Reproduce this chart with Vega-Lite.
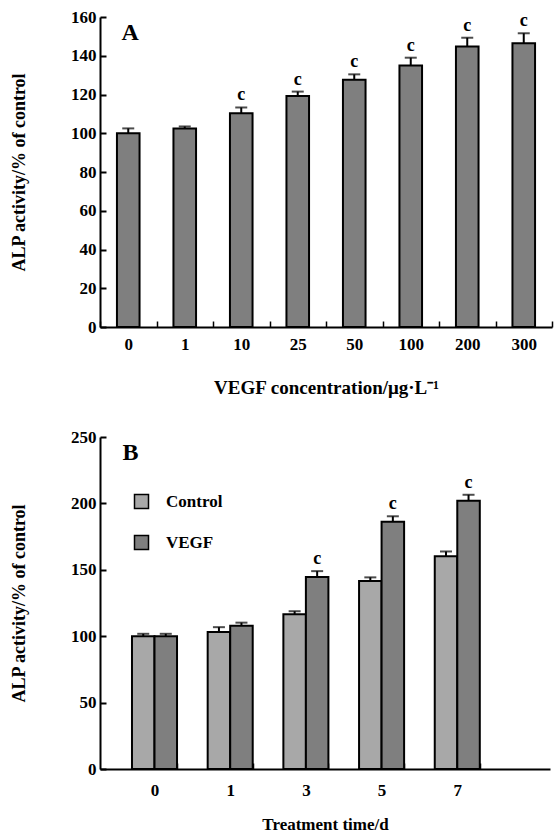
{
  "$schema": "https://vega.github.io/schema/vega-lite/v6.json",
  "padding": {"left": 10, "top": 8, "right": 2, "bottom": 0},
  "spacing": 31,
  "resolve": {"scale": {"fill": "independent"}, "legend": {"fill": "independent"}},
  "config": {
    "view": {"stroke": null},
    "font": "Liberation Serif",
    "axis": {
      "labelFont": "Liberation Serif",
      "labelFontWeight": "bold",
      "labelFontSize": 17,
      "labelColor": "#000",
      "labelOverlap": false,
      "titleFont": "Liberation Serif",
      "titleFontWeight": "bold",
      "titleFontSize": 18,
      "titleColor": "#000",
      "domainColor": "#000",
      "domainWidth": 2,
      "tickColor": "#000",
      "tickWidth": 2,
      "grid": false
    },
    "legend": {
      "labelFont": "Liberation Serif",
      "labelFontWeight": "bold",
      "labelFontSize": 17,
      "labelColor": "#000"
    }
  },
  "datasets": {
    "a": [
      {"conc": "0", "value": 100, "upper": 102.5, "sig": ""},
      {"conc": "1", "value": 102.4, "upper": 103.5, "sig": ""},
      {"conc": "10", "value": 110.3, "upper": 113.3, "sig": "c"},
      {"conc": "25", "value": 119.2, "upper": 121.5, "sig": "c"},
      {"conc": "50", "value": 127.6, "upper": 130.4, "sig": "c"},
      {"conc": "100", "value": 135, "upper": 139, "sig": "c"},
      {"conc": "200", "value": 144.8, "upper": 149.3, "sig": "c"},
      {"conc": "300", "value": 146.4, "upper": 151.6, "sig": "c"}
    ],
    "b": [
      {"day": "0", "group": "Control", "value": 100, "upper": 101.8, "sig": ""},
      {"day": "0", "group": "VEGF", "value": 100, "upper": 101.8, "sig": ""},
      {"day": "1", "group": "Control", "value": 103.2, "upper": 106.8, "sig": ""},
      {"day": "1", "group": "VEGF", "value": 107.8, "upper": 110.2, "sig": ""},
      {"day": "3", "group": "Control", "value": 116.5, "upper": 118.8, "sig": ""},
      {"day": "3", "group": "VEGF", "value": 144.5, "upper": 149, "sig": "c"},
      {"day": "5", "group": "Control", "value": 141.5, "upper": 144.3, "sig": ""},
      {"day": "5", "group": "VEGF", "value": 186.2, "upper": 190.3, "sig": "c"},
      {"day": "7", "group": "Control", "value": 160.2, "upper": 163.8, "sig": ""},
      {"day": "7", "group": "VEGF", "value": 202, "upper": 206.5, "sig": "c"}
    ],
    "labA": [{"conc": "0", "y": 152, "label": "A"}],
    "labB": [{"day": "0", "y": 238, "label": "B"}]
  },
  "vconcat": [
    {
      "width": 452,
      "height": 310,
      "encoding": {
        "x": {
          "field": "conc", "type": "nominal", "sort": null,
          "scale": {"paddingInner": 0, "paddingOuter": 0},
          "axis": {"title": "VEGF concentration/μg·L⁻¹", "titleFontSize": 19, "labelAngle": 0, "tickBand": "extent", "tickSize": -6, "tickWidth": 1.5, "labelPadding": 15, "titlePadding": 26}
        },
        "y": {"field": "value", "type": "quantitative",
          "scale": {"domain": [0, 160], "nice": false},
          "axis": {"title": "ALP activity/% of control", "values": [0, 20, 40, 60, 80, 100, 120, 140, 160], "tickCount": 9, "labelOverlap": false, "tickSize": -6, "labelPadding": 10, "titlePadding": 42}}
      },
      "layer": [
        {
          "data": {"name": "a"},
          "mark": {"type": "bar", "width": {"band": 0.4}, "fill": "#7f7f7f", "stroke": "#000", "strokeWidth": 2}
        },
        {
          "data": {"name": "a"},
          "mark": {"type": "rule", "color": "#000", "strokeWidth": 2},
          "encoding": {"y2": {"field": "upper"}}
        },
        {
          "data": {"name": "a"},
          "mark": {"type": "tick", "color": "#000", "size": 12, "thickness": 2, "orient": "horizontal"},
          "encoding": {"y": {"field": "upper", "type": "quantitative", "axis": {"title": "ALP activity/% of control", "values": [0, 20, 40, 60, 80, 100, 120, 140, 160], "labelOverlap": false}}}
        },
        {
          "data": {"name": "a"},
          "mark": {"type": "text", "font": "Liberation Serif", "fontWeight": "bold", "fontSize": 18, "dy": -12, "color": "#000"},
          "encoding": {"y": {"field": "upper", "type": "quantitative", "axis": {"title": "ALP activity/% of control", "values": [0, 20, 40, 60, 80, 100, 120, 140, 160], "labelOverlap": false}}, "text": {"field": "sig"}}
        },
        {
          "data": {"name": "labA"},
          "mark": {"type": "text", "font": "Liberation Serif", "fontWeight": "bold", "fontSize": 24, "dx": 2, "color": "#000"},
          "encoding": {"y": {"field": "y", "type": "quantitative", "axis": {"title": "ALP activity/% of control", "values": [0, 20, 40, 60, 80, 100, 120, 140, 160], "labelOverlap": false}}, "text": {"field": "label"}}
        }
      ]
    },
    {
      "width": 450,
      "height": 332,
      "encoding": {
        "x": {
          "field": "day", "type": "nominal", "sort": null,
          "scale": {"paddingInner": 0.405, "paddingOuter": 0.675, "align": 0.313},
          "axis": {"title": "Treatment time/d", "titleFontSize": 17, "labelAngle": 0, "tickBand": "extent", "tickSize": -6, "tickWidth": 1.5, "labelPadding": 19, "titlePadding": 18}
        }
      },
      "layer": [
        {
          "data": {"name": "b"},
          "mark": {"type": "bar", "stroke": "#000", "strokeWidth": 2},
          "encoding": {
            "xOffset": {"field": "group", "type": "nominal", "scale": {"paddingInner": 0, "paddingOuter": 0}},
            "fill": {"field": "group", "type": "nominal",
              "scale": {"domain": ["Control", "VEGF"], "range": ["#a8a8a8", "#7f7f7f"]},
              "legend": {"title": null, "orient": "none", "legendX": 33, "legendY": 56, "symbolType": "square", "symbolSize": 196, "symbolStrokeColor": "#000", "symbolStrokeWidth": 1.5, "rowPadding": 20, "labelOffset": 16}},
            "y": {"field": "value", "type": "quantitative",
              "scale": {"domain": [0, 250], "nice": false},
              "axis": {"title": "ALP activity/% of control", "values": [0, 50, 100, 150, 200, 250], "tickSize": -6, "labelPadding": 10, "titlePadding": 42}}
          }
        },
        {
          "data": {"name": "b"},
          "mark": {"type": "rule", "color": "#000", "strokeWidth": 2},
          "encoding": {
            "xOffset": {"field": "group", "type": "nominal"},
            "y": {"field": "value", "type": "quantitative"}, "y2": {"field": "upper"}}
        },
        {
          "data": {"name": "b"},
          "mark": {"type": "tick", "color": "#000", "size": 12, "thickness": 2, "orient": "horizontal"},
          "encoding": {
            "xOffset": {"field": "group", "type": "nominal"},
            "y": {"field": "upper", "type": "quantitative"}}
        },
        {
          "data": {"name": "b"},
          "mark": {"type": "text", "font": "Liberation Serif", "fontWeight": "bold", "fontSize": 18, "dy": -12, "color": "#000"},
          "encoding": {
            "xOffset": {"field": "group", "type": "nominal"},
            "y": {"field": "upper", "type": "quantitative"}, "text": {"field": "sig"}}
        },
        {
          "data": {"name": "labB"},
          "mark": {"type": "text", "font": "Liberation Serif", "fontWeight": "bold", "fontSize": 24, "dx": -24, "color": "#000"},
          "encoding": {"y": {"field": "y", "type": "quantitative"}, "text": {"field": "label"}}
        }
      ]
    }
  ]
}
